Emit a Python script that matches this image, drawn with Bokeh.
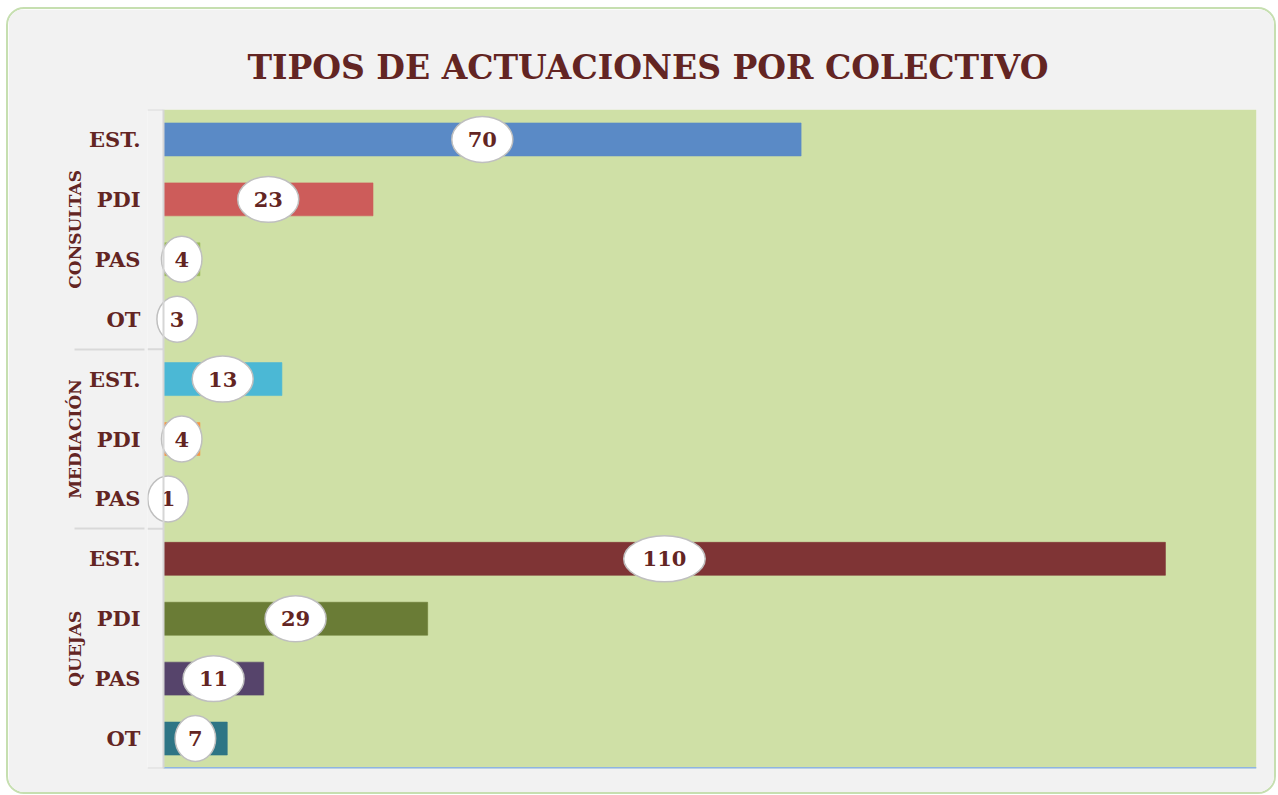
from bokeh.plotting import figure
from bokeh.models import FactorRange, Range1d, ColumnDataSource, Span
from bokeh.core.properties import value
from bokeh.embed import file_html
from bokeh.resources import INLINE

# ---- data ----
title_text = "TIPOS DE ACTUACIONES POR COLECTIVO"
groups = ["CONSULTAS"] * 4 + ["MEDIACIÓN"] * 3 + ["QUEJAS"] * 4
collectives = ["EST.", "PDI", "PAS", "OT",
               "EST.", "PDI", "PAS",
               "EST.", "PDI", "PAS", "OT"]
values = [70, 23, 4, 3, 13, 4, 1, 110, 29, 11, 7]
bar_colors = ["#5a8ac6", "#cd5c5a", "#9bbb59", "#8064a2",
              "#4bb8d5", "#f79646", "#2c4d75",
              "#7f3435", "#6a7c36", "#56446b", "#2e7585"]
x_max = 120

# ---- styling ----
TXT = "#632523"
FONT = "DejaVu Serif"
W, H = 1270, 787
frame_left, frame_right = 139, W - 22   # canvas coords
zero_px = 155                           # x = 0 lands here
scale = (frame_right - zero_px) / x_max
x_start = -(zero_px - frame_left) / scale

factors = list(zip(groups, collectives))
n = len(factors)

p = figure(width=W, height=H, output_backend="svg", toolbar_location=None,
           y_range=FactorRange(factors=factors[::-1], group_padding=0,
                               factor_padding=0, range_padding=0),
           x_range=Range1d(x_start, x_max),
           background_fill_color="#f2f2f2", border_fill_color="#f2f2f2",
           outline_line_color=None,
           min_border_left=frame_left, min_border_right=W - frame_right,
           min_border_top=100, min_border_bottom=28)

p.title.text = title_text
p.title.align = "left"
p.title.offset = 100
p.title.text_font = FONT
p.title.text_font_style = "bold"
p.title.text_font_size = "33px"
p.title.text_color = TXT
p.title.standoff = 46

# group boundaries in synthetic (numeric) category coordinates
bounds = [0]
for g in dict.fromkeys(groups[::-1]):
    bounds.append(bounds[-1] + groups.count(g))

# plot area background
p.quad(left=0, right=x_max, bottom=0, top=n,
       fill_color="#cfe0a6", line_color=None, level="underlay")

# separators inside the frame strip left of zero
p.segment(x0=[x_start] * len(bounds), x1=[0] * len(bounds), y0=bounds,
          y1=bounds, line_color="#d9d9d9", line_width=2)
# bottom axis line
p.segment(x0=[0], x1=[x_max], y0=[0], y1=[0],
          line_color="#8eb4e3", line_width=3)
p.add_layout(Span(location=0, dimension="height", line_color="#d6d6d6",
                  line_width=2))

src = ColumnDataSource(dict(
    y=factors, v=values, c=bar_colors,
    mid=[v / 2 for v in values],
    lbl=[str(v) for v in values],
    w=[20.5 * len(str(v)) + 20 for v in values],
))

p.hbar(y="y", left=0, right="v", height=0.55, fill_color="c",
       line_color="c", line_alpha=0.6, source=src)
p.ellipse(x="mid", y="y", width="w", height=46, width_units="screen",
          height_units="screen", fill_color="white", line_color="#bfbfbf",
          line_width=1.5, source=src)
p.text(x="mid", y="y", text="lbl", text_align="center",
       text_baseline="middle", text_font=value(FONT),
       text_font_style="bold", text_font_size="21px", text_color=TXT,
       source=src)

p.xaxis.visible = False
p.xgrid.visible = False
p.ygrid.visible = False

ax = p.yaxis[0]
ax.axis_line_color = None
ax.major_tick_line_color = None
ax.major_label_standoff = 1
ax.major_label_text_font = FONT
ax.major_label_text_font_style = "bold"
ax.major_label_text_font_size = "21px"
ax.major_label_text_color = TXT
ax.group_text_font = FONT
ax.group_text_font_style = "bold"
ax.group_text_font_size = "17px"
ax.group_text_color = TXT
ax.separator_line_color = "#d9d9d9"
ax.separator_line_width = 2

p.styles = {"border": "2px solid #c6dfb0", "border-radius": "18px",
            "overflow": "hidden", "box-sizing": "border-box",
            "margin-left": "6px", "margin-top": "7px"}

open("out.html", "w").write(file_html(p, INLINE))
